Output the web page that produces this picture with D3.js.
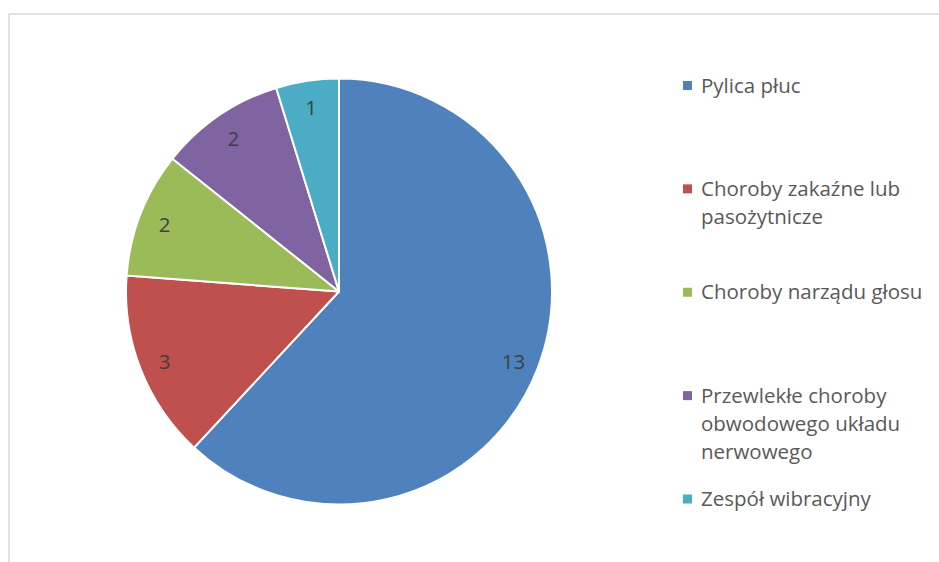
<!DOCTYPE html>
<html>
<head>
<meta charset="utf-8">
<script src="https://cdn.jsdelivr.net/npm/d3@7"></script>
<style>
  html, body { margin: 0; padding: 0; background: #fff; }
  svg { display: block; }
</style>
</head>
<body>
<svg id="chart" width="939" height="562"></svg>
<script>
const categories = [
  "Pylica płuc",
  "Choroby zakaźne lub pasożytnicze",
  "Choroby narządu głosu",
  "Przewlekłe choroby obwodowego układu nerwowego",
  "Zespół wibracyjny"
];
const values = [13, 3, 2, 2, 1];
const colors = ["#4F81BD", "#C0504D", "#9BBB59", "#8064A2", "#4BACC6"];

const W = 939, H = 562;
const svg = d3.select("#chart");
const font = "'Open Sans', 'Noto Sans', sans-serif";

// chart area border (extends beyond the captured frame)
svg.append("rect")
  .attr("x", 9).attr("y", 14)
  .attr("width", W + 20).attr("height", H + 20)
  .attr("fill", "#fff")
  .attr("stroke", "#d9d9d9").attr("stroke-width", 1.5);

const cx = 339, cy = 291.5, R = 213;
const data = categories.map((c, i) => ({ cat: c, value: values[i], color: colors[i] }));

const pie = d3.pie().sort(null).value(d => d.value).startAngle(0).endAngle(2 * Math.PI);
const arcs = pie(data);
const arc = d3.arc().innerRadius(0).outerRadius(R);
const labelArc = d3.arc().innerRadius(R * 0.88).outerRadius(R * 0.88);

const g = svg.append("g").attr("transform", `translate(${cx},${cy})`);
g.selectAll("path.slice").data(arcs).join("path")
  .attr("class", "slice")
  .attr("d", arc)
  .attr("fill", d => d.data.color)
  .attr("stroke", "#fff").attr("stroke-width", 2).attr("stroke-linejoin", "round");

g.selectAll("text.lbl").data(arcs).join("text")
  .attr("class", "lbl")
  .attr("transform", d => `translate(${labelArc.centroid(d)})`)
  .attr("text-anchor", "middle")
  .attr("dy", "0.45em")
  .attr("font-family", font).attr("font-size", 20.5)
  .attr("fill", "#404040")
  .text(d => d.data.value);

// legend
const ly = d3.scalePoint().domain(categories).range([85.5, 499]);
const legend = svg.append("g");
const items = legend.selectAll("g.item").data(data).join("g")
  .attr("class", "item")
  .attr("transform", d => `translate(683,${ly(d.cat)})`);
items.append("rect")
  .attr("x", 0).attr("y", -4.5).attr("width", 9).attr("height", 9)
  .attr("fill", d => d.color);

const maxW = 235, lineH = 28;
items.each(function(d) {
  const t = d3.select(this).append("text")
    .attr("x", 18).attr("y", 0)
    .attr("font-family", font).attr("font-size", 20.5)
    .attr("fill", "#595959");
  const words = d.cat.split(" ");
  let line = [], lineNo = 0;
  let ts = t.append("tspan").attr("x", 18).attr("dy", "0.35em");
  words.forEach(w => {
    line.push(w);
    ts.text(line.join(" "));
    if (ts.node().getComputedTextLength() > maxW && line.length > 1) {
      line.pop();
      ts.text(line.join(" "));
      line = [w];
      lineNo++;
      ts = t.append("tspan").attr("x", 18).attr("y", lineNo * lineH).attr("dy", "0.35em").text(w);
    }
  });
});
</script>
</body>
</html>
